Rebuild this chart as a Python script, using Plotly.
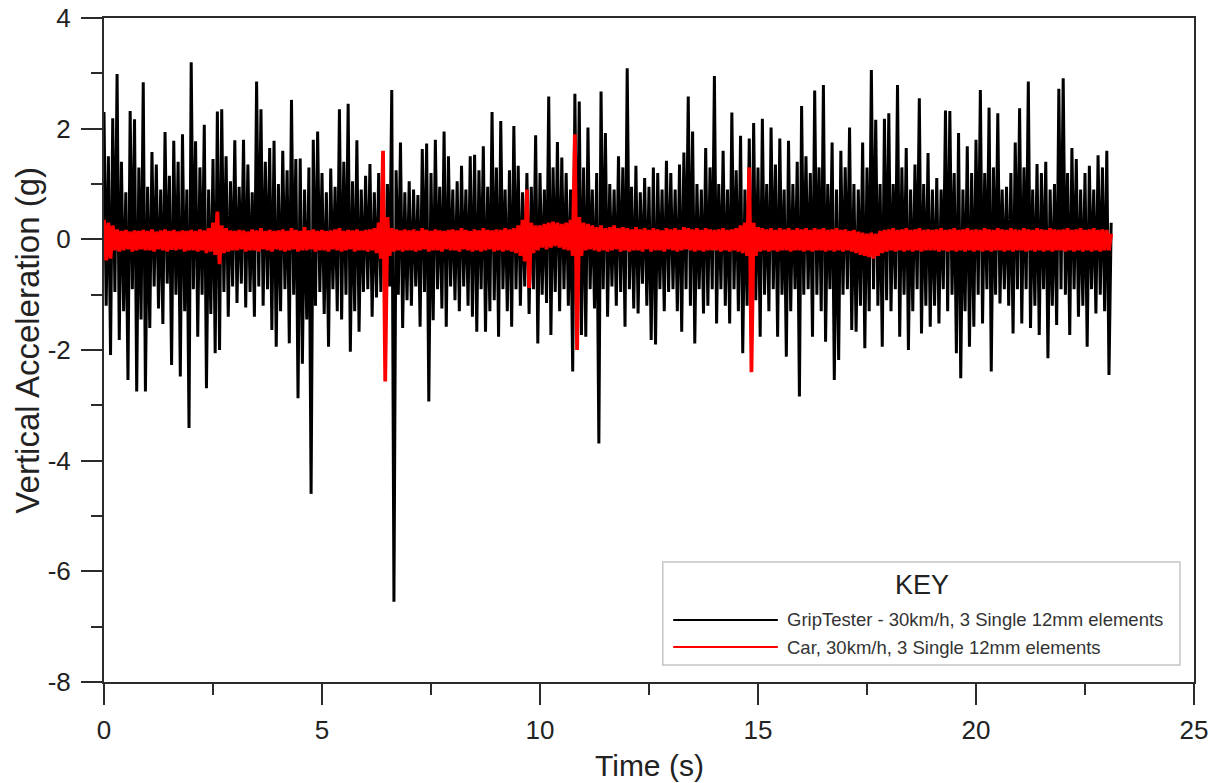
import plotly.graph_objects as go

# Sampling interval of the digitised records (s)
DT = 0.05

# GripTester vertical acceleration (g), one row per second
grip_acc = [
    2.3,-1.2,1.5,-2.09,2.19,-0.95,2.99,-1.82,1.4,-1.3,0.85,-2.54,2.32,-0.9,2.17,-2.75,1.3,-1.45,2.84,-2.75,
    0.95,-1.6,1.58,-0.85,1.35,-1.25,0.9,-1.53,1.94,-0.8,1.15,-2.27,1.78,-1.0,1.4,-2.48,1.9,-1.3,0.9,-3.41,
    3.2,-0.9,1.77,-1.76,1.3,-1.0,2.07,-2.69,0.9,-1.35,1.45,-2.06,2.31,-2.0,2.35,-0.95,1.5,-1.4,1.05,-0.85,
    1.79,-1.15,0.95,-0.8,1.8,-1.23,1.35,-0.95,0.85,-1.4,2.85,-0.85,2.35,-1.2,1.4,-0.9,1.65,-1.64,1.78,-1.94,
    1.0,-1.3,1.6,-0.9,1.25,-1.88,2.52,-1.0,1.45,-2.87,1.46,-2.25,0.9,-1.45,1.3,-4.6,1.8,-1.2,1.95,-0.95,
    1.2,-1.35,0.85,-1.94,1.28,-0.9,0.95,-1.3,2.35,-1.45,1.4,-1.0,2.45,-2.03,1.05,-1.3,1.79,-1.67,0.9,-0.95,
    1.15,-0.9,1.36,-1.4,0.85,-1.05,1.2,-0.95,0.9,-1.2,1.0,-0.85,2.7,-6.55,1.25,-1.0,1.75,-1.6,0.85,-1.1,
    1.05,-1.2,0.9,-0.85,0.8,-1.58,1.63,-0.95,1.73,-2.93,1.2,-1.46,1.8,-0.9,0.95,-1.25,1.95,-1.58,1.5,-0.85,
    0.9,-1.1,1.05,-1.3,1.33,-0.85,0.9,-1.2,1.5,-1.4,1.53,-1.67,1.25,-0.9,1.68,-1.67,0.95,-1.3,2.3,-1.1,
    1.3,-1.76,2.14,-0.9,0.9,-1.3,1.25,-1.58,2.05,-0.9,1.33,-1.2,0.85,-0.85,1.2,-1.35,0.95,-0.9,1.88,-1.88,
    1.2,-1.0,0.9,-1.15,2.58,-1.73,1.3,-0.95,1.76,-1.3,1.48,-0.9,1.2,-1.2,0.9,-2.39,2.63,-1.1,2.49,-1.73,
    1.3,-1.76,2.02,-0.9,0.9,-1.25,1.2,-3.69,2.67,-0.9,1.92,-1.4,1.0,-0.85,0.9,-1.2,1.5,-0.95,1.3,-1.58,
    3.09,-0.9,0.95,-1.25,1.33,-1.34,0.85,-0.8,1.11,-1.2,0.95,-1.82,1.3,-1.9,1.2,-0.9,0.9,-1.3,1.42,-0.95,
    1.2,-0.9,0.9,-1.3,1.35,-1.67,1.57,-0.9,2.58,-1.2,1.95,-1.88,1.0,-0.9,0.9,-1.34,1.65,-1.2,1.3,-0.9,
    2.95,-1.52,1.0,-0.9,1.6,-1.2,0.9,-1.52,2.29,-0.9,1.25,-1.3,1.87,-2.06,0.9,-1.2,1.82,-1.9,2.1,-1.1,
    1.3,-1.76,2.18,-1.0,1.0,-1.3,2.02,-0.9,1.35,-1.76,1.82,-1.0,0.9,-2.12,1.78,-1.3,1.0,-0.9,1.4,-2.84,
    2.41,-1.0,1.5,-0.9,1.2,-1.76,2.69,-1.0,1.3,-1.3,2.79,-1.85,1.0,-0.9,1.75,-2.54,0.9,-2.18,1.6,-1.0,
    1.3,-0.9,2.02,-1.64,1.0,-1.67,0.9,-1.2,1.75,-1.97,1.3,-1.3,3.06,-0.9,2.16,-1.2,1.0,-1.94,2.18,-1.1,
    2.28,-1.3,1.0,-0.9,2.79,-1.76,1.3,-1.0,1.65,-2.0,0.9,-1.3,1.35,-0.9,2.55,-1.7,1.0,-1.2,1.56,-1.58,
    0.9,-1.2,1.11,-1.52,0.9,-0.9,2.33,-1.3,2.32,-1.0,1.2,-2.06,1.92,-2.51,0.9,-1.3,1.68,-1.94,1.2,-1.58,
    1.8,-1.0,2.7,-1.52,1.2,-0.9,2.38,-2.39,1.3,-1.0,2.28,-1.16,0.9,-0.9,0.95,-1.2,1.2,-1.7,1.75,-0.9,
    2.37,-1.52,1.3,-0.9,2.85,-1.6,0.9,-1.2,1.36,-1.73,1.2,-0.9,1.4,-2.15,0.9,-1.2,1.0,-1.55,2.72,-0.9,
    2.91,-1.0,1.2,-1.73,1.65,-0.9,1.45,-1.4,0.9,-1.2,1.2,-1.94,1.33,-0.9,0.9,-1.34,1.52,-1.0,1.3,-1.3,
    1.6,-2.45,0.3,
]

# Car vertical acceleration (g), one row per second
car_acc = [
    0.35,-0.38,0.3,-0.35,0.25,-0.2,0.18,-0.22,0.15,-0.2,0.17,-0.18,0.14,-0.22,0.16,-0.2,0.15,-0.18,0.17,-0.2,
    0.15,-0.2,0.18,-0.22,0.14,-0.18,0.16,-0.2,0.18,-0.22,0.15,-0.19,0.17,-0.2,0.14,-0.18,0.16,-0.22,0.15,-0.2,
    0.17,-0.2,0.15,-0.22,0.18,-0.2,0.16,-0.25,0.2,-0.22,0.3,-0.28,0.5,-0.45,0.25,-0.25,0.2,-0.22,0.16,-0.2,
    0.15,-0.2,0.17,-0.18,0.16,-0.22,0.14,-0.2,0.18,-0.2,0.16,-0.22,0.2,-0.18,0.15,-0.2,0.17,-0.22,0.15,-0.18,
    0.16,-0.2,0.18,-0.22,0.15,-0.2,0.2,-0.18,0.17,-0.22,0.15,-0.2,0.22,-0.2,0.16,-0.18,0.18,-0.22,0.15,-0.2,
    0.17,-0.2,0.15,-0.22,0.16,-0.18,0.18,-0.2,0.2,-0.22,0.15,-0.2,0.17,-0.18,0.16,-0.22,0.18,-0.2,0.15,-0.2,
    0.17,-0.22,0.18,-0.2,0.2,-0.25,0.3,-0.35,1.6,-2.57,0.4,-0.3,0.2,-0.22,0.18,-0.2,0.16,-0.22,0.18,-0.2,
    0.16,-0.2,0.18,-0.22,0.15,-0.2,0.2,-0.18,0.17,-0.22,0.15,-0.2,0.18,-0.2,0.16,-0.22,0.15,-0.18,0.17,-0.2,
    0.18,-0.2,0.16,-0.22,0.2,-0.18,0.17,-0.2,0.15,-0.22,0.18,-0.2,0.16,-0.22,0.2,-0.2,0.17,-0.18,0.16,-0.22,
    0.18,-0.2,0.17,-0.22,0.2,-0.2,0.18,-0.22,0.2,-0.25,0.25,-0.3,0.35,-0.4,0.9,-0.88,0.3,-0.25,0.25,-0.2,
    0.25,-0.15,0.28,-0.18,0.3,-0.15,0.32,-0.12,0.3,-0.15,0.28,-0.18,0.3,-0.2,0.35,-0.3,1.9,-2.0,0.4,-0.3,
    0.3,-0.2,0.28,-0.18,0.25,-0.2,0.22,-0.22,0.25,-0.2,0.2,-0.22,0.22,-0.2,0.25,-0.18,0.2,-0.22,0.22,-0.2,
    0.2,-0.22,0.18,-0.2,0.22,-0.2,0.18,-0.22,0.2,-0.18,0.17,-0.22,0.2,-0.2,0.18,-0.2,0.16,-0.22,0.2,-0.18,
    0.18,-0.2,0.2,-0.22,0.17,-0.2,0.22,-0.18,0.2,-0.2,0.18,-0.22,0.2,-0.2,0.17,-0.22,0.2,-0.2,0.18,-0.2,
    0.17,-0.2,0.18,-0.22,0.2,-0.2,0.17,-0.22,0.18,-0.2,0.2,-0.22,0.25,-0.25,0.3,-0.3,1.3,-2.4,0.3,-0.3,
    0.22,-0.22,0.2,-0.2,0.18,-0.22,0.2,-0.2,0.17,-0.22,0.2,-0.2,0.18,-0.2,0.2,-0.22,0.17,-0.2,0.2,-0.2,
    0.18,-0.22,0.2,-0.2,0.17,-0.22,0.2,-0.2,0.18,-0.2,0.2,-0.22,0.17,-0.2,0.18,-0.22,0.2,-0.2,0.17,-0.22,
    0.18,-0.2,0.15,-0.22,0.17,-0.25,0.14,-0.28,0.12,-0.3,0.1,-0.32,0.12,-0.35,0.1,-0.3,0.15,-0.25,0.17,-0.22,
    0.18,-0.2,0.2,-0.22,0.17,-0.2,0.18,-0.22,0.2,-0.2,0.17,-0.22,0.18,-0.2,0.2,-0.22,0.17,-0.2,0.18,-0.2,
    0.17,-0.2,0.18,-0.22,0.2,-0.2,0.17,-0.22,0.18,-0.2,0.2,-0.22,0.17,-0.2,0.18,-0.22,0.2,-0.2,0.17,-0.22,
    0.18,-0.2,0.17,-0.22,0.2,-0.2,0.18,-0.22,0.17,-0.2,0.2,-0.2,0.18,-0.22,0.17,-0.2,0.2,-0.22,0.18,-0.2,
    0.17,-0.2,0.2,-0.22,0.18,-0.2,0.17,-0.22,0.2,-0.2,0.18,-0.22,0.17,-0.2,0.2,-0.22,0.18,-0.2,0.17,-0.2,
    0.18,-0.22,0.2,-0.2,0.17,-0.22,0.18,-0.2,0.2,-0.22,0.17,-0.2,0.18,-0.22,0.2,-0.2,0.17,-0.22,0.18,-0.2,
    0.17,-0.2,0.1,
]

series_names = [
    "GripTester - 30km/h, 3 Single 12mm elements",
    "Car, 30km/h, 3 Single 12mm elements",
]
series_colors = ["#000000", "#ff0000"]

x_ticks = [0, 5, 10, 15, 20, 25]
y_ticks = [-8, -6, -4, -2, 0, 2, 4]
y_tick_text = ["-8", "-6", "-4", "-2", "0", "2", "4"]

grip_t = [round(i * DT, 3) for i in range(len(grip_acc))]
car_t = [round(i * DT, 3) for i in range(len(car_acc))]

FONT = "Arial, Liberation Sans, Helvetica, sans-serif"
AXC = "#2b2b2b"
TXT = "#222222"

fig = go.Figure()
fig.add_trace(go.Scatter(x=grip_t, y=grip_acc, mode="lines", name=series_names[0],
                         line=dict(color=series_colors[0], width=3.0), showlegend=False))
fig.add_trace(go.Scatter(x=car_t, y=car_acc, mode="lines", name=series_names[1],
                         line=dict(color=series_colors[1], width=3.8), showlegend=False))

axis_common = dict(
    showgrid=False, zeroline=False, showline=True, linecolor=AXC, linewidth=2,
    mirror=True, ticks="outside", ticklen=21, tickwidth=2, tickcolor=AXC, automargin=False,
    tickfont=dict(family=FONT, size=26, color=TXT),
)
fig.update_xaxes(range=[0, 25], tickvals=x_ticks, ticklabelstandoff=3,
                 minor=dict(ticks="outside", ticklen=11, tickwidth=2, tickcolor=AXC, dtick=2.5, showgrid=False),
                 **axis_common)
fig.update_yaxes(range=[-8, 4], tickvals=y_ticks, ticktext=y_tick_text, ticklabelstandoff=5,
                 minor=dict(ticks="outside", ticklen=11, tickwidth=2, tickcolor=AXC, dtick=1, showgrid=False),
                 **axis_common)

# Key box (drawn in paper coordinates)
fig.add_shape(type="rect", xref="paper", yref="paper", x0=0.5126, x1=0.9871, y0=0.0256, y1=0.1807,
              line=dict(color="#c4c4c4", width=1.5), fillcolor="white", layer="above")
fig.add_annotation(text="KEY", xref="paper", yref="paper", x=0.7503, y=0.1461, showarrow=False,
                   xanchor="center", yanchor="middle", font=dict(family=FONT, size=27, color=TXT))
key_y = [0.0934, 0.0527]
for name, col, yy in zip(series_names, series_colors, key_y):
    fig.add_shape(type="line", xref="paper", yref="paper", x0=0.5222, x1=0.6182, y0=yy, y1=yy,
                  line=dict(color=col, width=2), layer="above")
    fig.add_annotation(text=name, xref="paper", yref="paper", x=0.6245, y=yy, showarrow=False,
                       xanchor="left", yanchor="middle", font=dict(family=FONT, size=18.5, color="#333333"))

# Axis titles
fig.add_annotation(text="Time (s)", xref="paper", yref="paper", x=0.5, y=-0.125, showarrow=False,
                   xanchor="center", yanchor="middle", font=dict(family=FONT, size=30, color=TXT))
fig.add_annotation(text="Vertical Acceleration (g)", xref="paper", yref="paper", x=-0.071, y=0.515,
                   showarrow=False, textangle=-90, xanchor="center", yanchor="middle",
                   font=dict(family=FONT, size=33, color=TXT))

fig.update_layout(
    width=1216, height=783,
    margin=dict(l=104, r=22, t=18, b=101),
    paper_bgcolor="white", plot_bgcolor="white",
    font=dict(family=FONT, color=TXT),
    showlegend=False,
)

fig.write_html("out.html", config={"displayModeBar": False},
               post_script="document.body.style.margin='0px';document.body.style.overflow='hidden';")
